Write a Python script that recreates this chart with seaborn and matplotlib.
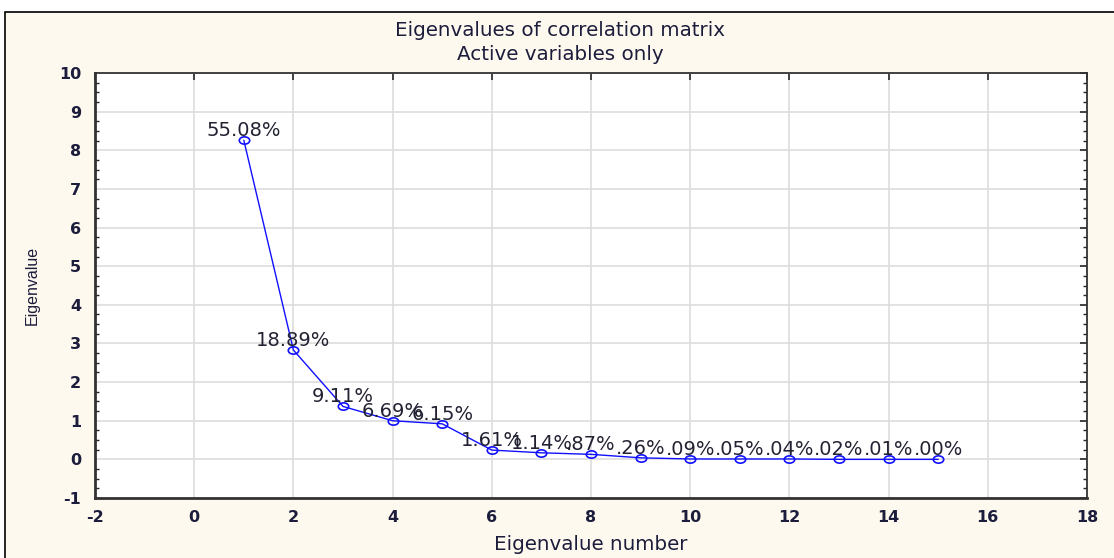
import numpy as np
import pandas as pd
import matplotlib
matplotlib.use('Agg')
import matplotlib.pyplot as plt
from matplotlib.patches import Rectangle
from matplotlib.path import Path
from matplotlib.transforms import Affine2D
from matplotlib.ticker import MultipleLocator
import seaborn as sns

# Data
eigen_number = list(range(1, 16))
eigenvalues = [8.26, 2.83, 1.37, 1.00, 0.92, 0.24, 0.17, 0.13, 0.04, 0.01, 0.01, 0.01, 0.00, 0.00, 0.00]
pct_labels = ['55.08%', '18.89%', '9.11%', '6.69%', '6.15%', '1.61%', '1.14%', '.87%',
              '.26%', '.09%', '.05%', '.04%', '.02%', '.01%', '.00%']

df = pd.DataFrame({'number': eigen_number, 'eigenvalue': eigenvalues, 'label': pct_labels})

sns.set_style('white')
plt.rcParams['font.family'] = ['DejaVu Sans']
plt.rcParams['axes.unicode_minus'] = False

cream = '#fef9ee'
text_col = '#1c1c3c'

# flattened circle, like the original marker
ellipse = Path.unit_circle().transformed(Affine2D().scale(1.0, 0.7))

fig = plt.figure(figsize=(11.14, 5.58), dpi=100)
fig.patch.set_facecolor('white')
# cream panel with black border on left/top
fig.patches.append(Rectangle((5 / 1114, -0.1), 1.2, (558 - 12) / 558 + 0.1, transform=fig.transFigure,
                             facecolor=cream, edgecolor='black', linewidth=1.2, zorder=-1))

ax = fig.add_axes([95 / 1114, 1 - 498 / 558, (1087 - 95) / 1114, (498 - 73) / 558])
ax.set_facecolor('white')

sns.lineplot(data=df, x='number', y='eigenvalue', ax=ax, color='#1010ff', linewidth=1,
             marker=ellipse, markersize=7.5, markerfacecolor='none', markeredgecolor='#1010ff',
             markeredgewidth=1.2)

for _, row in df.iterrows():
    ax.annotate(row['label'], (row['number'], row['eigenvalue']), xytext=(0, 3),
                textcoords='offset points', ha='center', va='baseline', fontsize=14,
                color='#222233')

ax.set_xlim(-2, 18)
ax.set_ylim(-1, 10)
ax.xaxis.set_major_locator(MultipleLocator(2))
ax.yaxis.set_major_locator(MultipleLocator(1))
ax.yaxis.set_minor_locator(MultipleLocator(0.25))
ax.grid(True, which='major', color='#dddddd', linewidth=1.2)
ax.set_axisbelow(True)

ax.tick_params(axis='both', which='major', direction='in', length=5, width=1.2,
               top=True, right=True, labelsize=11.5, labelcolor=text_col)
ax.tick_params(axis='x', which='major', pad=9)
ax.tick_params(axis='y', which='major', pad=10)
ax.tick_params(axis='y', which='minor', direction='in', length=3, width=1, left=True, right=True)
for lab in ax.get_xticklabels() + ax.get_yticklabels():
    lab.set_fontweight('bold')

for side in ['left', 'bottom']:
    ax.spines[side].set_color('#333333')
    ax.spines[side].set_linewidth(2)
for side in ['top', 'right']:
    ax.spines[side].set_color('#333333')
    ax.spines[side].set_linewidth(1.3)
    ax.spines[side].set_visible(True)

ax.set_xlabel('Eigenvalue number', fontsize=14.3, color=text_col, labelpad=7)
ax.set_ylabel('Eigenvalue', fontsize=11.5, color=text_col, labelpad=14,
              family=['Liberation Sans Narrow', 'Liberation Sans', 'DejaVu Sans'])

fig.text(0.503, 1 - 31 / 558, 'Eigenvalues of correlation matrix', ha='center', va='center',
         fontsize=14.3, color=text_col)
fig.text(0.503, 1 - 54 / 558, 'Active variables only', ha='center', va='center',
         fontsize=14.3, color=text_col)

fig.savefig('out.png', dpi=100, facecolor=fig.get_facecolor())
